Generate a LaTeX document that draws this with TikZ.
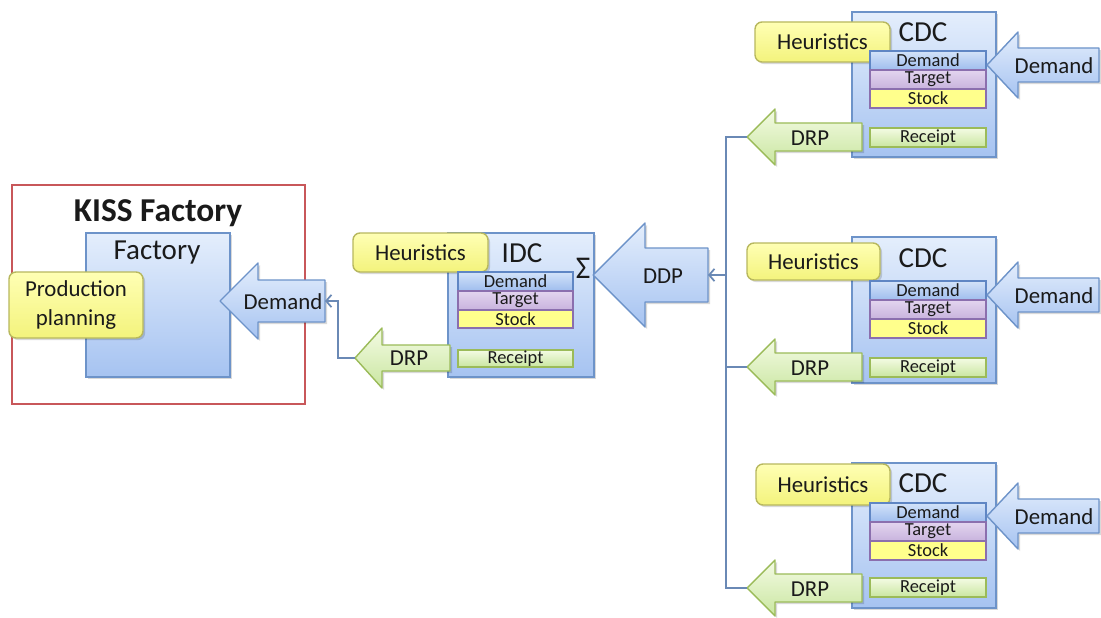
\documentclass[tikz,border=0pt]{standalone}
\usepackage{fontspec}
\setmainfont{Carlito}
\usetikzlibrary{arrows.meta,fit,shadows}

\definecolor{ink}{HTML}{1A1A1A}
\definecolor{boxedge}{HTML}{6D93C9}
\definecolor{bluetop}{HTML}{E4EEFC}
\definecolor{bluebot}{HTML}{A6C3F1}
\definecolor{yedge}{HTML}{B8B85E}
\definecolor{ytop}{HTML}{FFFFB4}
\definecolor{ybot}{HTML}{F3F37C}
\definecolor{gedge}{HTML}{9BBB59}
\definecolor{gtop}{HTML}{F4FBE4}
\definecolor{gbot}{HTML}{C9E6A0}
\definecolor{dtop}{HTML}{D3E3F9}
\definecolor{dbot}{HTML}{9FBDEE}
\definecolor{dedge}{HTML}{5F86C4}
\definecolor{ttop}{HTML}{E3D5EF}
\definecolor{tbot}{HTML}{C8B3DD}
\definecolor{tedge}{HTML}{8B6FAE}
\definecolor{stockfill}{HTML}{FFFF8C}
\definecolor{redframe}{HTML}{C8575A}
\definecolor{connc}{HTML}{6A89B5}

% left-pointing block arrow: name, style, tip x, y, head base x, head half height, shaft half height, tail x
\newcommand\leftblock[8]{%
  \path[#2] (#3,#4) -- (#5,{#4-#6}) -- (#5,{#4-#7}) -- (#8,{#4-#7})
    -- (#8,{#4+#7}) -- (#5,{#4+#7}) -- (#5,{#4+#6}) -- cycle;
  \coordinate (#1-tip) at (#3,#4);
  \coordinate (#1-tail) at (#8,#4);
}

\begin{document}
\begin{tikzpicture}[x=0.02cm,y=-0.02cm,
  softshadow/.style={drop shadow={shadow xshift=1.2pt,shadow yshift=-1.2pt,fill=black,opacity=0.15}},
  bluebox/.style={draw=boxedge,line width=0.8pt,top color=bluetop,bottom color=bluebot,inner sep=0pt,softshadow},
  yellowbox/.style={draw=yedge,line width=0.8pt,rounded corners=4pt,top color=ytop,bottom color=ybot,
    inner sep=0pt,softshadow},
  yellowtext/.style={text=ink,font=\fontsize{13}{16}\selectfont,align=center,inner sep=0pt},
  bar/.style={line width=0.7pt,inner sep=0pt},
  bartext/.style={text=ink,font=\fontsize{10.5}{11}\selectfont,inner sep=0pt},
  demandbar/.style={bar,draw=dedge,top color=dtop,bottom color=dbot},
  targetbar/.style={bar,draw=tedge,top color=ttop,bottom color=tbot},
  stockbar/.style={bar,draw=tedge,fill=stockfill},
  receiptbar/.style={bar,draw=gedge,top color=gtop,bottom color=gbot},
  bluearrow/.style={draw=boxedge,line width=0.8pt,top color=bluetop,bottom color=bluebot,line join=round,softshadow},
  greenarrow/.style={draw=gedge,line width=0.8pt,top color=gtop,bottom color=gbot,line join=round,softshadow},
  arrowtext/.style={text=ink,font=\fontsize{13}{15}\selectfont,inner sep=0pt},
  unittitle/.style={text=ink,font=\fontsize{16.5}{18}\selectfont,inner sep=0pt},
  conn/.style={draw=connc,line width=1pt},
  barbend/.style={-{Straight Barb[length=3pt,width=7pt]}}]

\useasboundingbox (0,0) rectangle (1101,618);
\fill[white] (0,0) rectangle (1101,618);

% ---------------- KISS Factory ----------------
\node[draw=redframe,line width=1.2pt,fit={(12,185) (305,404)},inner sep=0pt] (kiss) {};
\node[text=ink,font=\bfseries\fontsize{19}{21}\selectfont,inner sep=0pt] (kisslabel) at (158,213) {KISS Factory};
\node[bluebox,fit={(86,233) (230,377)}] (factory) {};
\node[unittitle] (factorylabel) at (157,253) {Factory};
\node[yellowbox,fit={(9,272) (143,338)}] (prodplan) {};
\node[yellowtext] (prodplantext) at (prodplan.center) {Production\\planning};
\leftblock{fdem}{bluearrow}{220}{301}{258}{38}{21}{325}
\node[arrowtext] (fdemlabel) at (283,302) {Demand};

% ---------------- IDC ----------------
\node[bluebox,fit={(448,233) (594,377)}] (idc) {};
\node[yellowbox,fit={(353,233) (488,272)}] (idcheur) {};
\node[yellowtext] (idcheurtext) at (idcheur.center) {Heuristics};
\node[unittitle] (idclabel) at (522,253) {IDC};
\node[text=ink,font=\fontsize{18}{20}\selectfont,inner sep=0pt] (idcsum) at (583,268) {Σ};
\node[demandbar,fit={(458,272) (573,291)}] (idcdemand) {};
\node[targetbar,fit={(458,291) (573,310)}] (idctarget) {};
\node[stockbar,fit={(458,310) (573,328)}] (idcstock) {};
\node[receiptbar,fit={(458,350) (573,367)}] (idcreceipt) {};
\node[bartext] at (idcdemand.center) (idcdemandtext) {Demand};
\node[bartext] at (idctarget.center) (idctargettext) {Target};
\node[bartext] at (idcstock.center) (idcstocktext) {Stock};
\node[bartext] at (idcreceipt.center) (idcreceipttext) {Receipt};
\leftblock{idcdrp}{greenarrow}{355}{358}{382}{30}{13}{450}
\node[arrowtext] (idcdrplabel) at (409,358) {DRP};
\leftblock{ddp}{bluearrow}{593}{275}{645}{52}{27}{708}
\node[arrowtext] (ddplabel) at (663,276) {DDP};

% ---------------- CDC (top) ----------------
\node[bluebox,fit={(852,12) (996,157)}] (cdca) {};
\node[yellowbox,fit={(755,22) (890,62)}] (cdcaheur) {};
\node[yellowtext] (cdcaheurtext) at (cdcaheur.center) {Heuristics};
\node[unittitle] (cdcalabel) at (923,32) {CDC};
\node[demandbar,fit={(870,51) (986,70)}] (cdcademand) {};
\node[targetbar,fit={(870,70) (986,89)}] (cdcatarget) {};
\node[stockbar,fit={(870,89) (986,108)}] (cdcastock) {};
\node[receiptbar,fit={(870,128) (986,147)}] (cdcareceipt) {};
\node[bartext] at (cdcademand.center) (cdcademandtext) {Demand};
\node[bartext] at (cdcatarget.center) (cdcatargettext) {Target};
\node[bartext] at (cdcastock.center) (cdcastocktext) {Stock};
\node[bartext] at (cdcareceipt.center) (cdcareceipttext) {Receipt};
\leftblock{cdcadem}{bluearrow}{987}{65}{1018}{33}{17}{1099}
\node[arrowtext] (cdcademlabel) at (1054,66) {Demand};
\leftblock{cdcadrp}{greenarrow}{747}{137}{775}{28}{14}{862}
\node[arrowtext] (cdcadrplabel) at (810,138) {DRP};

% ---------------- CDC (middle) ----------------
\node[bluebox,fit={(852,237) (996,383)}] (cdcb) {};
\node[yellowbox,fit={(747,243) (880,280)}] (cdcbheur) {};
\node[yellowtext] (cdcbheurtext) at (cdcbheur.center) {Heuristics};
\node[unittitle] (cdcblabel) at (923,258) {CDC};
\node[demandbar,fit={(870,281) (986,300)}] (cdcbdemand) {};
\node[targetbar,fit={(870,300) (986,319)}] (cdcbtarget) {};
\node[stockbar,fit={(870,319) (986,338)}] (cdcbstock) {};
\node[receiptbar,fit={(870,358) (986,377)}] (cdcbreceipt) {};
\node[bartext] at (cdcbdemand.center) (cdcbdemandtext) {Demand};
\node[bartext] at (cdcbtarget.center) (cdcbtargettext) {Target};
\node[bartext] at (cdcbstock.center) (cdcbstocktext) {Stock};
\node[bartext] at (cdcbreceipt.center) (cdcbreceipttext) {Receipt};
\leftblock{cdcbdem}{bluearrow}{987}{295}{1018}{33}{17}{1099}
\node[arrowtext] (cdcbdemlabel) at (1054,296) {Demand};
\leftblock{cdcbdrp}{greenarrow}{747}{367}{775}{28}{14}{862}
\node[arrowtext] (cdcbdrplabel) at (810,368) {DRP};

% ---------------- CDC (bottom) ----------------
\node[bluebox,fit={(852,463) (996,608)}] (cdcc) {};
\node[yellowbox,fit={(756,464) (890,505)}] (cdccheur) {};
\node[yellowtext] (cdccheurtext) at (cdccheur.center) {Heuristics};
\node[unittitle] (cdcclabel) at (923,483) {CDC};
\node[demandbar,fit={(870,503) (986,522)}] (cdccdemand) {};
\node[targetbar,fit={(870,522) (986,541)}] (cdcctarget) {};
\node[stockbar,fit={(870,541) (986,560)}] (cdccstock) {};
\node[receiptbar,fit={(870,578) (986,597)}] (cdccreceipt) {};
\node[bartext] at (cdccdemand.center) (cdccdemandtext) {Demand};
\node[bartext] at (cdcctarget.center) (cdcctargettext) {Target};
\node[bartext] at (cdccstock.center) (cdccstocktext) {Stock};
\node[bartext] at (cdccreceipt.center) (cdccreceipttext) {Receipt};
\leftblock{cdccdem}{bluearrow}{987}{516}{1018}{33}{17}{1099}
\node[arrowtext] (cdccdemlabel) at (1054,517) {Demand};
\leftblock{cdccdrp}{greenarrow}{747}{588}{775}{28}{14}{862}
\node[arrowtext] (cdccdrplabel) at (810,589) {DRP};

% ---------------- connectors ----------------
\coordinate (bus) at (726,275);
\draw[conn] (cdcadrp-tip) -| (bus);
\draw[conn] (cdcbdrp-tip) -| (bus);
\draw[conn] (cdccdrp-tip) -| (bus);
\draw[conn,barbend] (bus) -- (ddp-tail);

\coordinate (jog) at (338,301);
\draw[conn,barbend] (idcdrp-tip) -| (jog) -- (fdem-tail);

\end{tikzpicture}
\end{document}
